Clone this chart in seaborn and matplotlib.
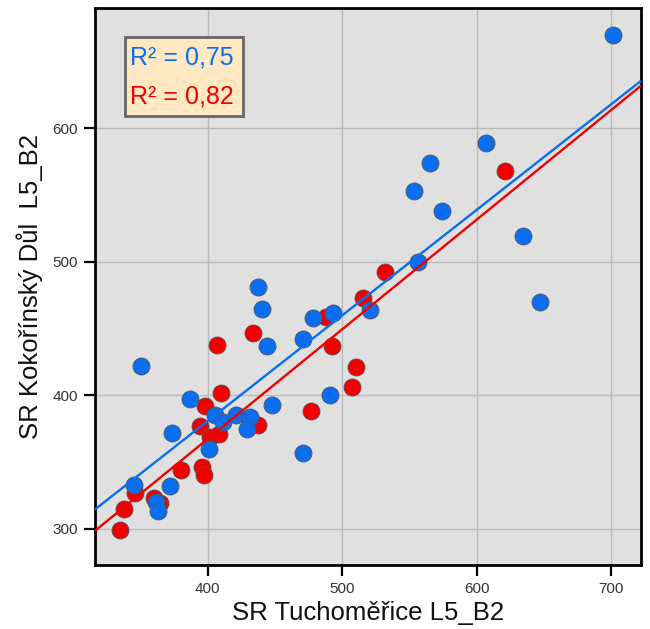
import numpy as np
import pandas as pd
import seaborn as sns
import matplotlib
matplotlib.use("Agg")
import matplotlib.pyplot as plt
from matplotlib.patches import Rectangle

# Series 1 (blue): SR Tuchoměřice vs SR Kokořínský Důl
blue_x = [701, 607, 565, 553, 574, 634, 556, 647, 437, 440, 444, 478, 493, 471,
          520.5, 350, 387, 448, 491, 405, 411, 421, 431, 429, 373, 401, 471,
          345, 371.5, 361.5, 363]
blue_y = [670, 589, 574, 553, 538, 519, 500, 470, 481, 465, 437, 458, 462, 442,
          464, 422, 397, 393, 400, 385, 380, 385, 384, 375, 372, 360, 357,
          333, 332, 320, 313.5]

# Series 2 (red)
red_x = [621, 532, 515, 488, 433.5, 407, 492, 510, 507, 410, 397.5, 437, 394,
         401.5, 408, 477, 380, 396, 397, 346, 337.5, 335, 360, 364.5]
red_y = [568, 492, 473, 459, 447, 438, 437, 421, 406, 402, 392, 378, 377,
         369, 371, 388, 344, 346, 340, 327, 315, 299, 323, 319]

r2_labels = ["R\u00b2 = 0,75", "R\u00b2 = 0,82"]
x_ticks = [400, 500, 600, 700]
y_ticks = [300, 400, 500, 600]

BLUE = "#0a6ef2"
RED = "#f20000"

sns.set_theme(style="white")
plt.rcParams["font.family"] = ["Liberation Sans", "DejaVu Sans"]

fig = plt.figure(figsize=(6.5, 6.29), dpi=100)
ax = fig.add_axes([0.146, 0.102, 0.840, 0.885])
ax.set_facecolor("#e0e0e0")
ax.set_xlim(316, 722)
ax.set_ylim(273, 690)
ax.set_xticks(x_ticks)
ax.set_yticks(y_ticks)
ax.grid(True, color="#bcbcbc", linewidth=1.0)
ax.set_axisbelow(True)

blue_df = pd.DataFrame({"x": blue_x, "y": blue_y})
red_df = pd.DataFrame({"x": red_x, "y": red_y})

point_kws = dict(s=150, edgecolors="#555555", linewidths=0.6, alpha=1)
sns.regplot(data=red_df, x="x", y="y", ax=ax, ci=None, truncate=False,
            color=RED, scatter_kws=dict(point_kws, color=RED, zorder=3),
            line_kws=dict(color=RED, linewidth=1.7, zorder=4))
sns.regplot(data=blue_df, x="x", y="y", ax=ax, ci=None, truncate=False,
            color=BLUE, scatter_kws=dict(point_kws, color=BLUE, zorder=3),
            line_kws=dict(color=BLUE, linewidth=1.7, zorder=4))
ax.set_xlim(316, 722)
ax.set_ylim(273, 690)

# R² box
ax.add_patch(Rectangle((0.055, 0.806), 0.216, 0.142, transform=ax.transAxes,
                       facecolor="#ffe8c2", edgecolor="#666666", linewidth=2,
                       zorder=5))
ax.text(0.064, 0.912, r2_labels[0], transform=ax.transAxes, color=BLUE,
        fontsize=18, va="center", ha="left", zorder=6)
ax.text(0.064, 0.842, r2_labels[1], transform=ax.transAxes, color=RED,
        fontsize=18, va="center", ha="left", zorder=6)

for sp in ax.spines.values():
    sp.set_color("black")
    sp.set_linewidth(2)

ax.tick_params(axis="both", direction="out", length=8, width=1.6,
               color="black", labelsize=11, labelcolor="#333333", pad=4,
               bottom=True, left=True)

ax.set_xlabel("SR Tuchoměřice L5_B2", fontsize=18.5, color="#111111", labelpad=4)
ax.set_ylabel("SR Kokořínský Důl  L5_B2", fontsize=18.5, color="#111111", labelpad=7)

fig.savefig("out.png", dpi=100)
